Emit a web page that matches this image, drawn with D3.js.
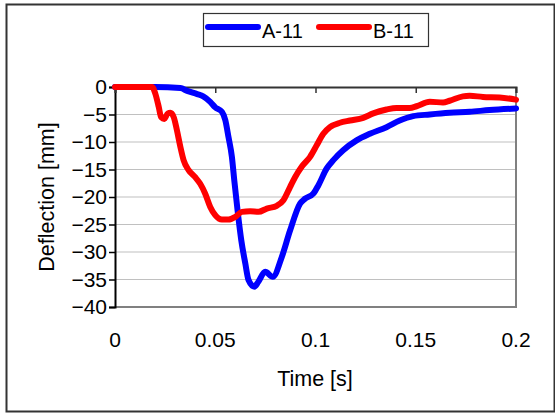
<!DOCTYPE html>
<html>
<head>
<meta charset="utf-8">
<script src="https://cdn.jsdelivr.net/npm/d3@7"></script>
<style>
  body { margin: 0; background: #fff; }
  text { font-family: Arial, "Liberation Sans", sans-serif; fill: #000; }
</style>
</head>
<body>
<script>
var w = 555;
var h = 416;

// series: time [s] and deflection [mm]
var timeA = [0, 0.02, 0.0326, 0.036, 0.041, 0.044, 0.0475, 0.05, 0.0533, 0.055, 0.0566, 0.0583, 0.0595, 0.0613, 0.063, 0.065, 0.0666, 0.0695, 0.0715, 0.0749, 0.0787, 0.0832, 0.0873, 0.0923, 0.0948, 0.0989, 0.1014, 0.1056, 0.1089, 0.1138, 0.1205, 0.1271, 0.1354, 0.142, 0.1487, 0.157, 0.1669, 0.1769, 0.1868, 0.2];
var defA = [0, 0, -0.2, -0.7, -1.3, -1.7, -2.7, -3.7, -4.5, -6, -9.1, -12.7, -17, -23, -27.9, -32.1, -35.1, -36.3, -35.4, -33.6, -34.5, -30.9, -26.1, -21.2, -20.3, -19.4, -17.9, -14.8, -13.3, -11.5, -9.7, -8.5, -7.3, -6.1, -5.3, -5.0, -4.7, -4.5, -4.2, -3.9];

var timeB = [0, 0.0185, 0.0201, 0.0218, 0.023, 0.0246, 0.0263, 0.0276, 0.0293, 0.0309, 0.0326, 0.0342, 0.0367, 0.04, 0.0425, 0.045, 0.0475, 0.05, 0.0533, 0.0566, 0.06, 0.0633, 0.0674, 0.0716, 0.0757, 0.0807, 0.084, 0.0873, 0.0898, 0.0931, 0.0973, 0.1006, 0.1039, 0.1072, 0.1122, 0.1172, 0.1238, 0.1288, 0.1354, 0.1404, 0.147, 0.1504, 0.157, 0.1636, 0.1669, 0.1735, 0.1769, 0.1835, 0.1918, 0.2];
var defB = [0, 0, -1.2, -3.6, -5.5, -5.8, -4.8, -4.7, -5.5, -7.9, -10.9, -13.3, -15.1, -16.4, -17.6, -19.4, -21.8, -23.3, -24.1, -24.1, -23.6, -22.7, -22.6, -22.7, -22.1, -21.6, -20.6, -18.2, -16.4, -14.5, -12.7, -10.6, -8.5, -7.3, -6.5, -6.1, -5.6, -4.8, -4.1, -3.8, -3.8, -3.5, -2.7, -2.8, -2.5, -1.7, -1.6, -1.8, -1.9, -2.3];

var xTicks = [0, 0.05, 0.1, 0.15, 0.2];
var yTicks = [0, -5, -10, -15, -20, -25, -30, -35, -40];
var seriesNames = ["A-11", "B-11"];
var seriesColors = ["#0000ff", "#ff0000"];

var plot = {left: 115, right: 516, top: 87, bottom: 307};

var svg = d3.select("body")
    .append("svg")
    .attr("width", w)
    .attr("height", h);

// outer chart frame
svg.append("rect")
    .attr("x", 6.5).attr("y", 4.5)
    .attr("width", 548).attr("height", 407)
    .attr("fill", "#fff")
    .attr("stroke", "#333")
    .attr("stroke-width", 2);

var xScale = d3.scaleLinear().domain([0, 0.2]).range([plot.left, plot.right]);
var yScale = d3.scaleLinear().domain([-40, 0]).range([plot.bottom, plot.top]);

// gridlines
svg.append("g")
    .selectAll("line")
    .data(yTicks.filter(function (d) { return d !== 0 && d !== -40; }))
    .enter()
    .append("line")
    .attr("x1", plot.left).attr("x2", plot.right)
    .attr("y1", function (d) { return yScale(d); })
    .attr("y2", function (d) { return yScale(d); })
    .attr("stroke", "#c0c0c0")
    .attr("stroke-width", 1.2);

// plot area border (grey right and bottom)
svg.append("path")
    .attr("d", "M" + plot.right + "," + plot.top + "V" + plot.bottom + "H" + plot.left)
    .attr("fill", "none")
    .attr("stroke", "#808080")
    .attr("stroke-width", 2);

// Y axis
var yAxis = d3.axisLeft(yScale).tickValues(yTicks).tickSize(6).tickPadding(2);
var gy = svg.append("g")
    .attr("transform", "translate(" + plot.left + ",0)")
    .call(yAxis);
gy.select(".domain").attr("stroke", "#000").attr("stroke-width", 2);
gy.selectAll(".tick line").attr("stroke", "#000").attr("stroke-width", 1.5);
gy.selectAll(".tick text")
    .attr("font-size", "21px")
    .attr("font-family", "Arial, 'Liberation Sans', sans-serif")
    .attr("fill", "#000");

// X axis sits at y = 0 (top), ticks point down, labels at the bottom
var xAxis = d3.axisBottom(xScale).tickValues(xTicks).tickSize(6).tickFormat("");
var gx = svg.append("g")
    .attr("transform", "translate(0," + plot.top + ")")
    .call(xAxis);
gx.select(".domain").attr("stroke", "#333").attr("stroke-width", 2);
gx.selectAll(".tick line").attr("stroke", "#333").attr("stroke-width", 1.5);

svg.append("g")
    .selectAll("text")
    .data(xTicks)
    .enter()
    .append("text")
    .attr("x", function (d) { return xScale(d); })
    .attr("y", 347)
    .attr("text-anchor", "middle")
    .attr("font-size", "21px")
    .text(function (d) { return d; });

// axis titles
svg.append("text")
    .attr("x", 315).attr("y", 386)
    .attr("text-anchor", "middle")
    .attr("font-size", "21.5px")
    .text("Time [s]");

svg.append("text")
    .attr("transform", "translate(54,197) rotate(-90)")
    .attr("text-anchor", "middle")
    .attr("font-size", "21.5px")
    .text("Deflection [mm]");

// lines
var line = d3.line()
    .x(function (d) { return xScale(d[0]); })
    .y(function (d) { return yScale(d[1]); })
    .curve(d3.curveMonotoneX);

var series = [d3.zip(timeA, defA), d3.zip(timeB, defB)];

svg.append("g")
    .selectAll("path")
    .data(series)
    .enter()
    .append("path")
    .attr("d", line)
    .attr("fill", "none")
    .attr("stroke", function (d, i) { return seriesColors[i]; })
    .attr("stroke-width", 6)
    .attr("stroke-linejoin", "round")
    .attr("stroke-linecap", "round");

// legend
var legend = svg.append("g");
legend.append("rect")
    .attr("x", 203.5).attr("y", 13.5)
    .attr("width", 225).attr("height", 33)
    .attr("fill", "#fff")
    .attr("stroke", "#333")
    .attr("stroke-width", 1.2);

var legendX = [208, 319];
seriesNames.forEach(function (name, i) {
    legend.append("line")
        .attr("x1", legendX[i]).attr("x2", legendX[i] + 50)
        .attr("y1", 27).attr("y2", 27)
        .attr("stroke", seriesColors[i])
        .attr("stroke-width", 6)
        .attr("stroke-linecap", "round");
    legend.append("text")
        .attr("x", legendX[i] + 54)
        .attr("y", 38)
        .attr("font-size", "20px")
        .text(name);
});
</script>
</body>
</html>
